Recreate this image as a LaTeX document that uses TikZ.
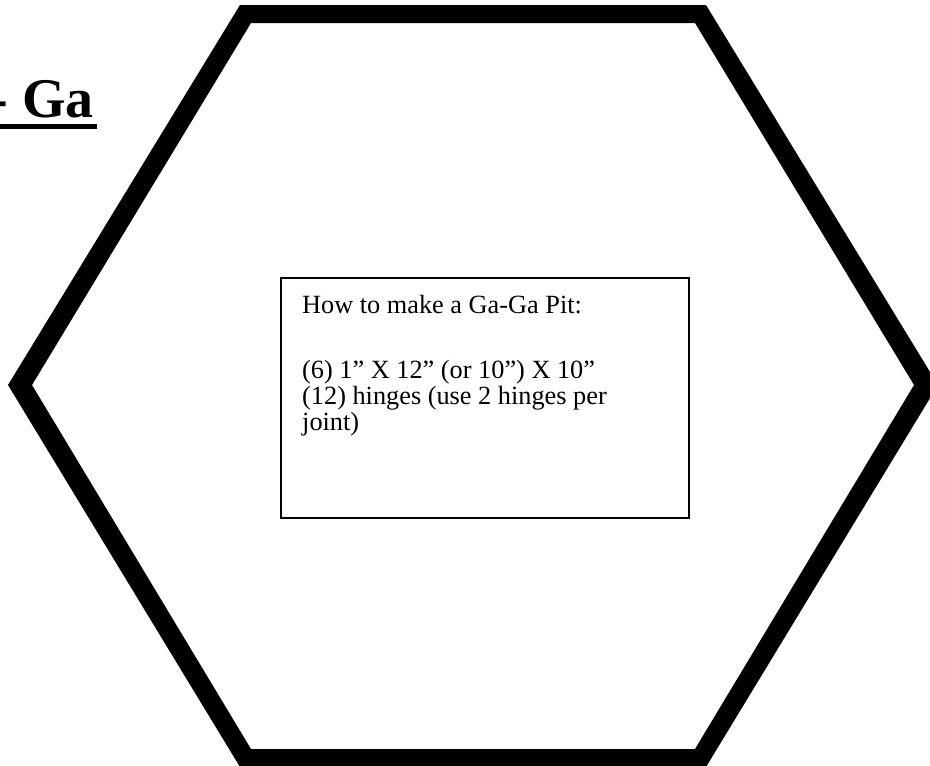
\documentclass[tikz,border=0pt]{standalone}
\usepackage{fontspec}
\setmainfont{Liberation Serif}
\begin{document}
\begin{tikzpicture}[x=1pt,y=-1pt,
  boxtext/.style={anchor=base west,inner sep=0pt,font=\fontsize{26.3}{27}\selectfont},
  titletext/.style={anchor=base east,inner sep=0pt,font=\fontsize{56}{60}\selectfont\bfseries}]
\useasboundingbox (0,0) rectangle (930,766);
% hexagon ring (outer and inner contours, even-odd fill)
\fill[black,even odd rule]
  (8,385) -- (240,5) -- (706,5) -- (938,385) -- (706,767) -- (240,767) -- cycle
  (32,385) -- (251,23) -- (695,23) -- (914,385) -- (695,749) -- (251,749) -- cycle;
% title (cut at the left edge, as in the reference)
\node[titletext] (title) at (94,117) {- Ga};
\draw[line width=5pt] (-60,126.5) -- (97,126.5);
% text box
\draw[line width=2pt] (281,278) rectangle (688.5,518);
\node[boxtext] (l1) at (302,313) {How to make a Ga-Ga Pit:};
\node[boxtext] (l2) at (302,378) {(6) 1” X 12” (or 10”) X 10”};
\node[boxtext] (l3) at (302,404) {(12) hinges (use 2 hinges per};
\node[boxtext] (l4) at (302,430) {joint)};
\end{tikzpicture}
\end{document}
